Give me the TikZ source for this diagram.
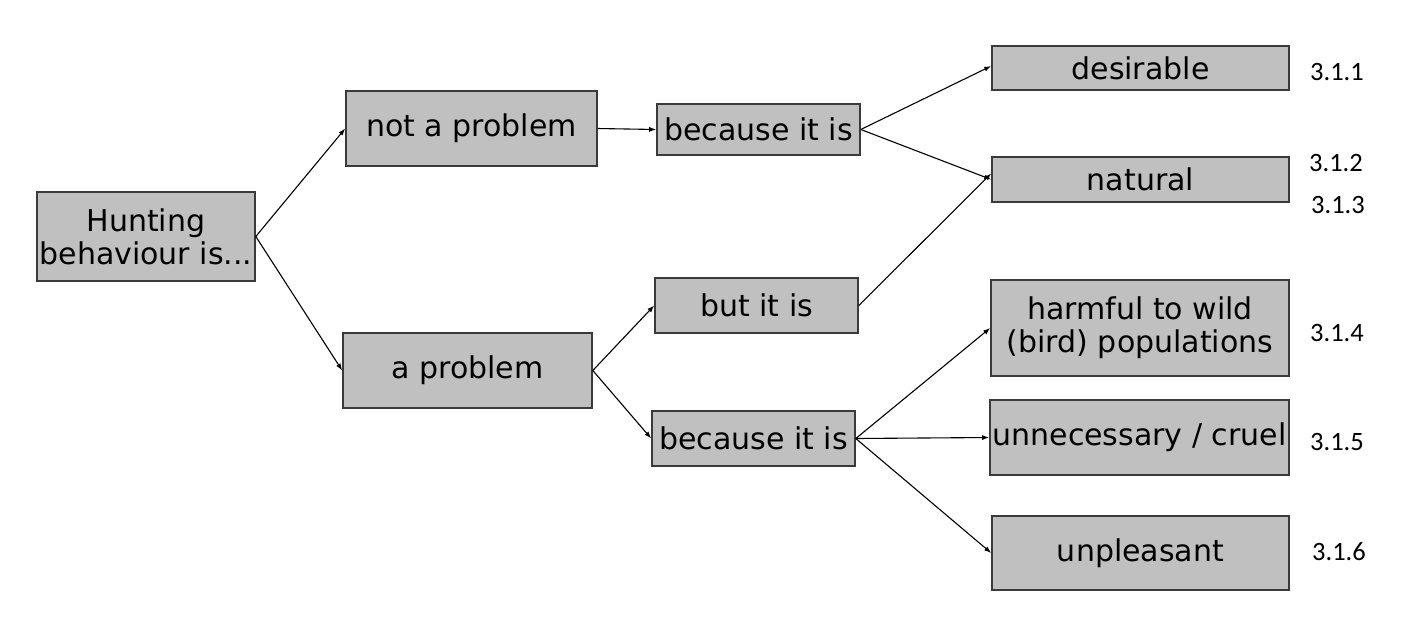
\documentclass[tikz,border=0pt]{standalone}
\usepackage{fontspec}
\setmainfont{DejaVu Sans}
\newfontfamily\numfont{Carlito}
\usetikzlibrary{arrows.meta}
\definecolor{boxfill}{HTML}{C0C0C0}
\definecolor{boxline}{HTML}{3A3A3A}
\begin{document}
\begin{tikzpicture}[x=1pt,y=-1pt,
  box/.style={draw=boxline,fill=boxfill,line width=1.6pt,inner sep=0pt,align=center,font=\fontsize{30}{33}\selectfont},
  num/.style={font=\numfont\fontsize{26.5}{28}\selectfont,inner sep=0pt},
  conn/.style={line width=1.1pt,-{Latex[length=7pt,width=5pt]}}]
\path[use as bounding box,fill=white] (0,0) rectangle (1412,622);
\node[box,minimum width=218pt,minimum height=89pt] (hunt) at (146,236.5) {Hunting\\behaviour is...};
\node[box,minimum width=251pt,minimum height=75pt] (notp) at (471.5,128.5) {not a problem};
\node[box,minimum width=249pt,minimum height=75pt] (prob) at (467.5,370.5) {a problem};
\node[box,minimum width=203pt,minimum height=51pt] (bec1) at (758.5,129.5) {because it is};
\node[box,minimum width=203pt,minimum height=55pt] (but) at (756.5,305.5) {but it is};
\node[box,minimum width=203pt,minimum height=55pt] (bec2) at (753.5,438.5) {because it is};
\node[box,minimum width=297pt,minimum height=44pt] (des) at (1140.5,68) {desirable};
\node[box,minimum width=297pt,minimum height=45pt] (nat) at (1140.5,179.5) {natural};
\node[box,minimum width=298pt,minimum height=96pt] (harm) at (1140,328) {harmful to wild\\(bird) populations};
\node[box,minimum width=299pt,minimum height=75pt] (unn) at (1139.5,437.5) {unnecessary / cruel};
\node[box,minimum width=297pt,minimum height=74pt] (unp) at (1140.5,553) {unpleasant};
\node[num] (n1) at (1337,72) {3.1.1};
\node[num] (n2) at (1336,163) {3.1.2};
\node[num] (n3) at (1338,205) {3.1.3};
\node[num] (n4) at (1337,333) {3.1.4};
\node[num] (n5) at (1337,442) {3.1.5};
\node[num] (n6) at (1339,552) {3.1.6};
\draw[conn] (hunt.east) -- (notp.west);
\draw[conn] (hunt.east) -- (prob.west);
\draw[conn] (notp.east) -- (bec1.west);
\draw[conn] (bec1.east) -- ([yshift=2pt]des.west);
\draw[conn] (bec1.east) -- (nat.west);
\draw[conn] (but.east) -- ([yshift=6pt]nat.west);
\draw[conn] (prob.east) -- (but.west);
\draw[conn] (prob.east) -- (bec2.west);
\draw[conn] (bec2.east) -- (harm.west);
\draw[conn] (bec2.east) -- (unn.west);
\draw[conn] (bec2.east) -- (unp.west);
\end{tikzpicture}
\end{document}
